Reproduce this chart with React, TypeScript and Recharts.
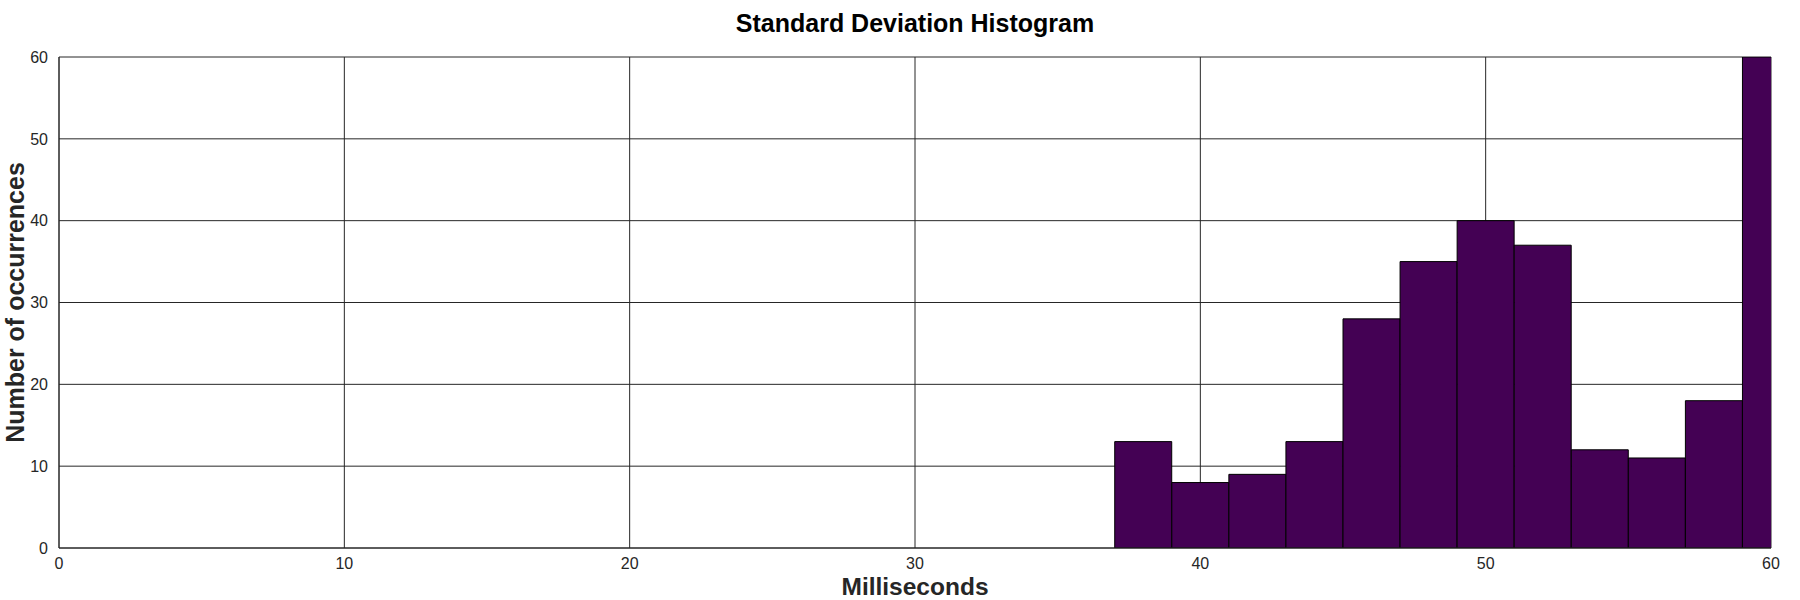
import { BarChart, Bar, XAxis, YAxis, CartesianGrid, Label } from "recharts";

const binStarts = [37, 39, 41, 43, 45, 47, 49, 51, 53, 55, 57, 59];
const counts = [13, 8, 9, 13, 28, 35, 40, 37, 12, 11, 18, 60];
const xTicks = [0, 10, 20, 30, 40, 50, 60];
const yTicks = [0, 10, 20, 30, 40, 50, 60];
const BIN_WIDTH = 2;

const data = binStarts.map((start, i) => ({
  center: start + BIN_WIDTH / 2,
  count: counts[i],
}));

const WIDTH = 1800;
const HEIGHT = 600;
const MARGIN = { top: 57, right: 29, left: 0, bottom: 0 };
const Y_AXIS_WIDTH = 59;
const X_AXIS_HEIGHT = 52;
const X_DOMAIN: [number, number] = [0, 60];

const plotWidth = WIDTH - MARGIN.left - MARGIN.right - Y_AXIS_WIDTH;

const FONT = "'Liberation Sans', Arial, Helvetica, sans-serif";
const AXIS_COLOR = "#262626";
const TICK_STYLE = { fontSize: 16, fill: AXIS_COLOR, fontFamily: FONT };
const LABEL_STYLE = { fontFamily: FONT, fontWeight: "bold", fontSize: 24.5, fill: AXIS_COLOR };

export default function App() {
  return (
    <div style={{ position: "absolute", left: 0, top: 0, width: WIDTH, height: HEIGHT, background: "#fff" }}>
      <div
        style={{
          position: "absolute",
          left: MARGIN.left + Y_AXIS_WIDTH,
          width: plotWidth,
          top: 11,
          textAlign: "center",
          fontFamily: FONT,
          fontWeight: "bold",
          fontSize: 25,
          lineHeight: "25px",
          color: "#000",
        }}
      >
        Standard Deviation Histogram
      </div>
      <BarChart
        width={WIDTH}
        height={HEIGHT}
        data={data}
        margin={MARGIN}
        barCategoryGap={0}
        barGap={0}
      >
        <CartesianGrid stroke={AXIS_COLOR} strokeWidth={1} />
        <XAxis
          dataKey="center"
          type="number"
          domain={X_DOMAIN}
          ticks={xTicks}
          allowDataOverflow
          height={X_AXIS_HEIGHT}
          tick={TICK_STYLE}
          tickLine={false}
          tickSize={0}
          tickMargin={10}
          axisLine={{ stroke: AXIS_COLOR }}
          interval={0}
        >
          <Label value="Milliseconds" position="insideBottom" offset={5} style={LABEL_STYLE} />
        </XAxis>
        <YAxis
          type="number"
          domain={[0, 60]}
          ticks={yTicks}
          allowDataOverflow
          width={Y_AXIS_WIDTH}
          tick={TICK_STYLE}
          tickLine={false}
          tickSize={0}
          tickMargin={11}
          axisLine={{ stroke: AXIS_COLOR }}
          interval={0}
        >
          <Label
            content={({ viewBox }: any) => {
              const cy = viewBox.y + viewBox.height / 2;
              const x = 24;
              return (
                <text
                  x={x}
                  y={cy}
                  transform={`rotate(-90 ${x} ${cy})`}
                  textAnchor="middle"
                  style={{ ...LABEL_STYLE, fontSize: 25 }}
                >
                  Number of occurrences
                </text>
              );
            }}
          />
        </YAxis>
        <Bar
          dataKey="count"
          fill="#440154"
          stroke="#000"
          strokeWidth={1}
          isAnimationActive={false}
        />
      </BarChart>
    </div>
  );
}
